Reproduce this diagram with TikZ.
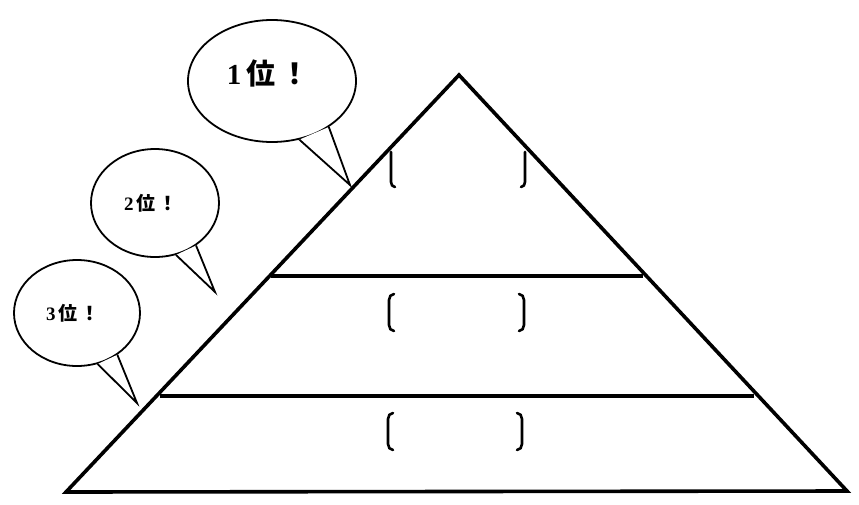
\documentclass[tikz,border=0pt]{standalone}
\usepackage{fontspec}
\setmainfont{Liberation Serif}
\newfontfamily\jp{Noto Sans CJK JP}
\usetikzlibrary{shapes.geometric}
\tikzset{
  bubble/.style={draw, ellipse, line width=1.8pt, inner sep=0pt},
  tailfill/.style={fill=white},
  tailline/.style={draw, line width=1.8pt, line join=miter},
  pyr/.style={line width=3.6pt, line join=miter},
  bracket/.style={line width=2.6pt, line cap=round},
  bigtxt/.style={font=\fontsize{29}{32}\selectfont\bfseries},
  smalltxt/.style={font=\fontsize{19}{22}\selectfont\bfseries}
}
\begin{document}
\begin{tikzpicture}[x=1pt,y=-1pt]
\useasboundingbox (0,0) rectangle (859,504);
% pyramid
\coordinate (apex) at (459,75);
\coordinate (bl) at (66,492);
\coordinate (br) at (847,491);
\draw[pyr] (apex) -- (bl) -- (br) -- cycle;
\coordinate (l1a) at (271,276);
\coordinate (l1b) at (643,276);
\coordinate (l2a) at (160,396);
\coordinate (l2b) at (754,396);
\draw[pyr] (l1a) -- (l1b);
\draw[pyr] (l2a) -- (l2b);
% brackets
\newcommand{\lbr}[3]{\draw[bracket] (#1+5,#2) to[out=180,in=90] (#1,#2+6) -- (#1,#3-6) to[out=-90,in=180] (#1+5,#3);}
\newcommand{\rbr}[3]{\draw[bracket] (#1-5,#2) to[out=0,in=90] (#1,#2+6) -- (#1,#3-6) to[out=-90,in=0] (#1-5,#3);}
\draw[bracket] (391,152) -- (391,182) to[out=-90,in=180] (395,187);
\draw[bracket] (525,152) -- (525,182) to[out=-90,in=0] (521,187);
\lbr{389}{294}{331}
\rbr{524}{294}{331}
\lbr{388}{413}{450}
\rbr{522}{413}{450}
% bubble 1
\node[bubble, minimum width=168pt, minimum height=122pt] (b1) at (272,81) {};
\coordinate (t1) at (350,185);
\fill[tailfill] (b1.-65) -- (t1) -- (b1.-39) -- cycle;
\draw[tailline] (b1.-65) -- (t1) -- (b1.-39);
\node[bigtxt] (s1) at (268,73) {1\,{\jp\bfseries 位\,！}};
% bubble 2
\node[bubble, minimum width=128pt, minimum height=108pt] (b2) at (155,203) {};
\coordinate (t2) at (215,292);
\fill[tailfill] (b2.-68) -- (t2) -- (b2.-46) -- cycle;
\draw[tailline] (b2.-68) -- (t2) -- (b2.-46);
\node[smalltxt] (s2) at (151,203) {2\,{\jp\bfseries 位\,！}};
% bubble 3
\node[bubble, minimum width=126pt, minimum height=106pt] (b3) at (77,313) {};
\coordinate (t3) at (137,403);
\fill[tailfill] (b3.-68) -- (t3) -- (b3.-46) -- cycle;
\draw[tailline] (b3.-68) -- (t3) -- (b3.-46);
\node[smalltxt] (s3) at (73,313) {3\,{\jp\bfseries 位\,！}};
\end{tikzpicture}
\end{document}
